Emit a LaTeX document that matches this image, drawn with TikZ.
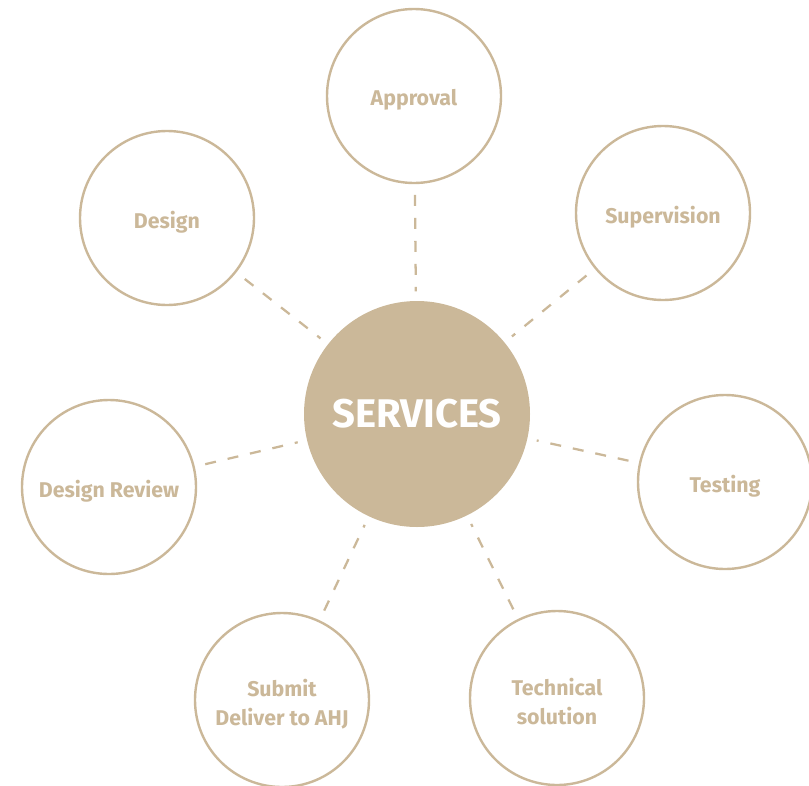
\documentclass[tikz,border=0pt]{standalone}
\usepackage{fontspec}
\setmainfont{Fira Sans}
\definecolor{sand}{RGB}{203,184,153}

\begin{document}
\begin{tikzpicture}[x=0.75pt,y=0.75pt]
\tikzstyle{every node}+=[inner sep=0pt]
\tikzstyle{outer}=[circle,draw=sand,line width=1.8pt,fill=white,minimum size=130.5pt]
\tikzstyle{tag}=[text=sand,align=center,yshift=-3pt,
  font=\fontsize{16}{21.75}\selectfont\bfseries]
\tikzstyle{hub}=[circle,fill=sand,minimum size=169.5pt,text=white,
  font=\fontsize{30}{32}\selectfont\bfseries]
\tikzstyle{link}=[draw=sand,line width=1.7pt,dash pattern=on 8.25pt off 9pt,
  shorten <=8pt,shorten >=7pt]
\useasboundingbox (0,0) rectangle (809,-785);
\node [hub] (services) at (417,-414) {SERVICES};
\node [outer,label={[tag]center:Approval}] (approval) at (414,-96) {};
\node [outer,label={[tag]center:Design}] (design) at (167,-218) {};
\node [outer,label={[tag]center:Supervision}] (supervision) at (663,-213) {};
\node [outer,label={[tag]center:Testing}] (testing) at (725,-482) {};
\node [outer,label={[tag]center:Design Review}] (review) at (109,-487) {};
\node [outer,label={[tag]center:{Submit\\Deliver to AHJ}}] (submit) at (282,-700) {};
\node [outer,label={[tag]center:{Technical\\solution}}] (technical) at (557,-698) {};
\draw [link] (approval) -- (services);
\draw [link] (design) -- (services);
\draw [link] (supervision) -- (services);
\draw [link] (testing) -- (services);
\draw [link] (review) -- (services);
\draw [link] (submit) -- (services);
\draw [link] (technical) -- (services);
\end{tikzpicture}
\end{document}
